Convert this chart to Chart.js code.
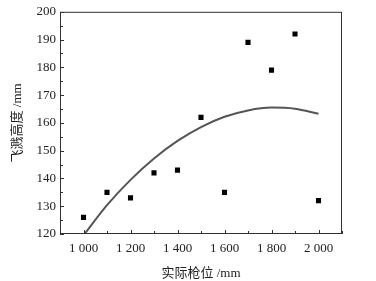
<!DOCTYPE html>
<html>
<head>
<meta charset="utf-8">
<script src="https://cdn.jsdelivr.net/npm/chart.js@4"></script>
<style>
  html, body { margin: 0; padding: 0; background: #fff; }
  #wrap { width: 376px; height: 281px; }
</style>
</head>
<body>
<div id="wrap"><canvas id="sprayChart"></canvas></div>
<script>
// measured points: lance position (mm) vs splash height (mm)
const lancePos = [1000, 1100, 1200, 1300, 1400, 1500, 1600, 1700, 1800, 1900, 2000];
const splashHeight = [126, 135, 133, 142, 143, 162, 135, 189, 179, 192, 132];

// fitted curve
const fitX = [1000, 1100, 1200, 1300, 1400, 1500, 1600, 1700, 1800, 1900, 2000];
const fitY = [119.5, 130.4, 139.5, 147.2, 153.5, 158.5, 162.2, 164.5, 165.5, 165.1, 163.3];

const xTicks = [1000, 1200, 1400, 1600, 1800, 2000];
const yTicks = [120, 130, 140, 150, 160, 170, 180, 190, 200];

const fontFamily = '"Liberation Serif", "Noto Sans CJK SC", serif';

// frame + inward tick marks
const frameTicks = {
  id: 'frameTicks',
  afterDraw(chart) {
    const { ctx, chartArea: a, scales } = chart;
    ctx.save();
    ctx.strokeStyle = '#333';
    ctx.lineWidth = 1;
    ctx.strokeRect(a.left + 0.5, a.top + 0.5, a.right - a.left - 1, a.bottom - a.top - 1);
    ctx.beginPath();
    for (let v = 900; v <= 2100; v += 100) {
      const px = Math.round(scales.x.getPixelForValue(v)) + 0.5;
      const len = v % 200 === 0 ? 4 : 3;
      ctx.moveTo(px, a.bottom);
      ctx.lineTo(px, a.bottom - len);
    }
    for (let v = 120; v <= 200; v += 5) {
      const py = Math.round(scales.y.getPixelForValue(v)) + 0.5;
      const len = v % 10 === 0 ? 4 : 3;
      ctx.moveTo(a.left, py);
      ctx.lineTo(a.left + len, py);
    }
    ctx.stroke();
    ctx.restore();
  }
};

new Chart(document.getElementById('sprayChart'), {
  type: 'scatter',
  data: {
    datasets: [{
      label: 'fit',
      type: 'line',
      data: fitX.map((x, i) => ({ x: x, y: fitY[i] })),
      borderColor: '#555',
      borderWidth: 2,
      pointRadius: 0,
      cubicInterpolationMode: 'monotone',
      fill: false
    }, {
      label: 'measured',
      data: lancePos.map((x, i) => ({ x: x, y: splashHeight[i] })),
      pointStyle: 'rect',
      pointRadius: 3.6,
      backgroundColor: '#000',
      borderColor: '#000',
      borderWidth: 0
    }]
  },
  options: {
    responsive: true,
    maintainAspectRatio: false,
    animation: false,
    layout: { padding: { top: 6, right: 34, left: 0, bottom: 0 } },
    plugins: {
      legend: { display: false },
      tooltip: { enabled: false }
    },
    scales: {
      x: {
        type: 'linear',
        min: 900,
        max: 2100,
        afterBuildTicks: (s) => { s.ticks = xTicks.map(v => ({ value: v })); },
        afterFit: (s) => { s.height = 47; },
        grid: { display: false, drawTicks: false },
        border: { display: false },
        ticks: {
          padding: 7,
          color: '#222',
          font: { family: fontFamily, size: 13 },
          callback: (v) => String(v).replace(/(\d)(\d{3})$/, '$1 $2')
        },
        title: {
          display: true,
          text: '实际枪位 /mm',
          color: '#222',
          font: { family: fontFamily, size: 13 },
          padding: { top: 5, bottom: 0 }
        }
      },
      y: {
        min: 120,
        max: 200,
        afterBuildTicks: (s) => { s.ticks = yTicks.map(v => ({ value: v })); },
        afterFit: (s) => { s.width = 60; },
        grid: { display: false, drawTicks: false },
        border: { display: false },
        ticks: {
          padding: 4,
          color: '#222',
          font: { family: fontFamily, size: 13 }
        },
        title: {
          display: true,
          text: '飞溅高度 /mm',
          color: '#222',
          font: { family: fontFamily, size: 13 },
          padding: { top: 10, bottom: 4 }
        }
      }
    }
  },
  plugins: [frameTicks]
});
</script>
</body>
</html>
